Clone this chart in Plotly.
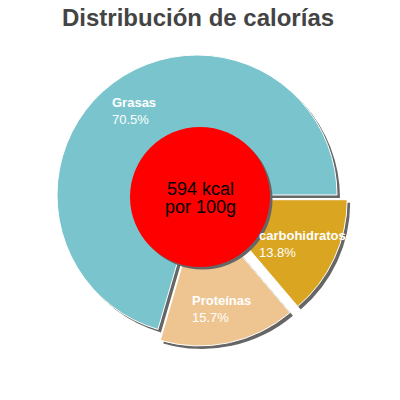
import math
import plotly.graph_objects as go

# ---- data ----
labels = ["Grasas", "Proteínas", "carbohidratos"]
values = [70.5, 15.7, 13.8]
pct_text = ["70.5%", "15.7%", "13.8%"]
colors = ["#7AC5CD", "#EEC591", "#DAA520"]
pulls = [0.0, 0.08, 0.08]
center_lines = ["594 kcal", "por 100g"]
title_text = "Distribución de calorías"

# ---- layout geometry (pixels, page coordinates) ----
OFF = 8                    # default page body margin
W, H = 392, 392
cx, cy = 197 - OFF, 195 - OFF   # pie centre
R = 140                    # pie radius
maxpull = max(pulls)
half = R * (1 + maxpull)   # half pie box
sh = 3                     # shadow offset
total = sum(values)
# first slice starts at 3 o'clock and runs counterclockwise
rot = 90 - 360 * values[0] / total

def dom(dx=0, dy=0):
    x0 = (cx + dx - half) / W
    x1 = (cx + dx + half) / W
    y0 = (H - (cy + dy) - half) / H
    y1 = (H - (cy + dy) + half) / H
    return dict(x=[x0, x1], y=[y0, y1])

fig = go.Figure()
# shadow pie
fig.add_trace(go.Pie(
    labels=labels, values=values, sort=False, direction="counterclockwise",
    rotation=rot, pull=pulls, textinfo="none", hoverinfo="skip",
    marker=dict(colors=["#666666"] * len(values), line=dict(width=0)),
    domain=dom(sh, sh), showlegend=False,
))
# main pie
fig.add_trace(go.Pie(
    labels=labels, values=values, sort=False, direction="counterclockwise",
    rotation=rot, pull=pulls, textinfo="none",
    marker=dict(colors=colors, line=dict(color="white", width=1)),
    domain=dom(), showlegend=False,
))

# labels positioned at each slice's mid-angle
cum = 0
for lab, v, p, pl in zip(labels, values, pct_text, pulls):
    mid = math.radians((cum + v / 2) / total * 360)
    cum += v
    r = 0.75 * R + pl * R
    px = cx + r * math.cos(mid)
    py = cy - r * math.sin(mid)
    fig.add_annotation(
        x=px / W, y=1 - py / H, xref="paper", yref="paper",
        text=f"<b>{lab}</b><br>{p}", showarrow=False, align="left",
        xanchor="center", yanchor="middle",
        font=dict(family="Liberation Sans, Arial", size=13, color="white"),
    )

# centre red circle with shadow
ccx, ccy, cr = 200 - OFF, 197 - OFF, 70
for dx, col in [(2.5, "#666666"), (0, "#FF0000")]:
    fig.add_shape(type="circle", xref="paper", yref="paper",
                  x0=(ccx + dx - cr) / W, x1=(ccx + dx + cr) / W,
                  y0=1 - (ccy + dx + cr) / H, y1=1 - (ccy + dx - cr) / H,
                  fillcolor=col, line=dict(width=0), layer="above")

for i, line in enumerate(center_lines):
    fig.add_annotation(
        x=ccx / W, y=1 - (ccy - 8 + i * 18) / H, xref="paper", yref="paper",
        text=line, showarrow=False, xanchor="center", yanchor="middle",
        font=dict(family="Liberation Sans, Arial", size=18, color="black"),
    )

fig.add_annotation(
    x=(198 - OFF) / W, y=1 - (18 - OFF) / H, xref="paper", yref="paper",
    text=f"<b>{title_text}</b>", showarrow=False,
    xanchor="center", yanchor="middle",
    font=dict(family="Liberation Sans, Arial", size=24, color="#444444"),
)

fig.update_layout(
    width=W, height=H, margin=dict(l=0, r=0, t=0, b=0),
    paper_bgcolor="white", plot_bgcolor="white",
)

fig.write_html("out.html")
